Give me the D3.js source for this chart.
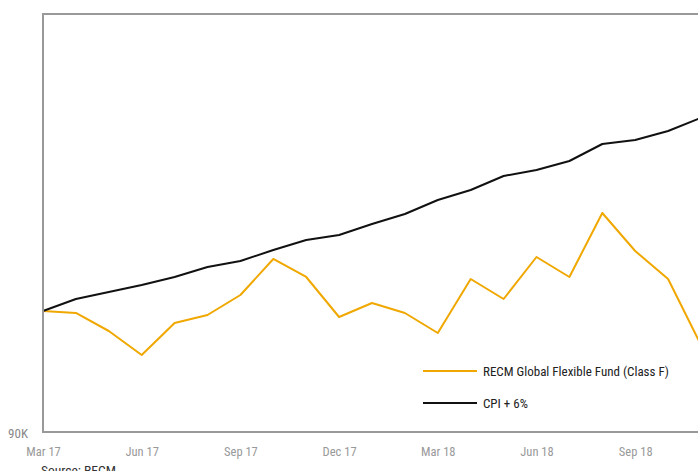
<!DOCTYPE html>
<html><head><meta charset="utf-8">
<script src="https://cdn.jsdelivr.net/npm/d3@7"></script>
<style>
html,body{margin:0;padding:0;background:#fff;}
svg{display:block;}
text{font-family:"Liberation Sans Narrow","Arial Narrow","Roboto Condensed","Liberation Sans",sans-serif;}
</style>
</head><body>
<svg id="chart" width="698" height="471"></svg>
<script>
const months = ["Mar 17","Apr 17","May 17","Jun 17","Jul 17","Aug 17","Sep 17","Oct 17","Nov 17","Dec 17",
  "Jan 18","Feb 18","Mar 18","Apr 18","May 18","Jun 18","Jul 18","Aug 18","Sep 18","Oct 18","Nov 18"];
const tickLabels = ["Mar 17","Jun 17","Sep 17","Dec 17","Mar 18","Jun 18","Sep 18"];
const fundValues = [100000,99835,98347,96364,99008,99669,101322,104298,102810,99504,
  100661,99835,98182,102645,100992,104463,102810,108099,104959,102645,97190];
const cpiValues = [100000,100992,101570,102149,102810,103636,104132,105041,105868,106281,
  107190,108017,109174,110000,111157,111653,112397,113802,114132,114876,115967];
const yTicks = [90000];
const seriesNames = ["RECM Global Flexible Fund (Class F)","CPI + 6%"];
const seriesColors = ["#f0a800","#111111"];
const sourceText = "Source: RECM";

const svg = d3.select("#chart");
const mLeft = 43, mRight = 701, mTop = 14, mBottom = 432;

const x = d3.scalePoint().domain(months).range([mLeft, mRight]);
const y = d3.scaleLinear().domain([90000, 124545]).range([mBottom, mTop]);

const axisColor = "#999";
svg.append("line").attr("x1", mLeft).attr("x2", 698).attr("y1", mTop).attr("y2", mTop)
  .attr("stroke", axisColor).attr("stroke-width", 2);

const line = d3.line().x((d,i)=>x(months[i])).y(d=>y(d));
[fundValues, cpiValues].forEach((vals, k) => {
  svg.append("path").datum(vals).attr("d", line)
    .attr("fill","none").attr("stroke", seriesColors[k]).attr("stroke-width", 2)
    .attr("stroke-linejoin","round");
});

const xAxis = d3.axisBottom(x).tickValues(tickLabels).tickSize(0).tickPadding(0);
const gx = svg.append("g").attr("transform", `translate(0,${mBottom})`).call(xAxis);
gx.select(".domain").remove();
gx.selectAll("text").attr("dy", null).attr("y", 24).attr("fill", "#999")
  .style("font-size", "12.5px");
svg.append("line").attr("x1", mLeft).attr("x2", 698).attr("y1", mBottom).attr("y2", mBottom)
  .attr("stroke", axisColor).attr("stroke-width", 2);

const yAxis = d3.axisLeft(y).tickValues(yTicks).tickSize(0).tickPadding(0)
  .tickFormat(d => d3.format(".0f")(d/1000) + "K");
const gy = svg.append("g").attr("transform", `translate(28,0)`).call(yAxis);
gy.select(".domain").remove();
gy.selectAll("text").attr("dy", null).attr("x", 0).attr("y", 5).attr("fill", "#888")
  .style("font-size", "13px");
svg.append("line").attr("x1", mLeft).attr("x2", mLeft).attr("y1", mTop-1).attr("y2", mBottom+1)
  .attr("stroke", axisColor).attr("stroke-width", 2);

const legY = [371, 403];
seriesNames.forEach((name, k) => {
  svg.append("line").attr("x1", 423).attr("x2", 477).attr("y1", legY[k]).attr("y2", legY[k])
    .attr("stroke", seriesColors[k]).attr("stroke-width", 2);
  svg.append("text").attr("x", 483).attr("y", legY[k] + 4.5).attr("fill", "#222")
    .style("font-size", "13px").text(name);
});

svg.append("text").attr("x", 41).attr("y", 475).attr("fill", "#333")
  .style("font-size", "13.5px").text(sourceText);
</script>
</body></html>
